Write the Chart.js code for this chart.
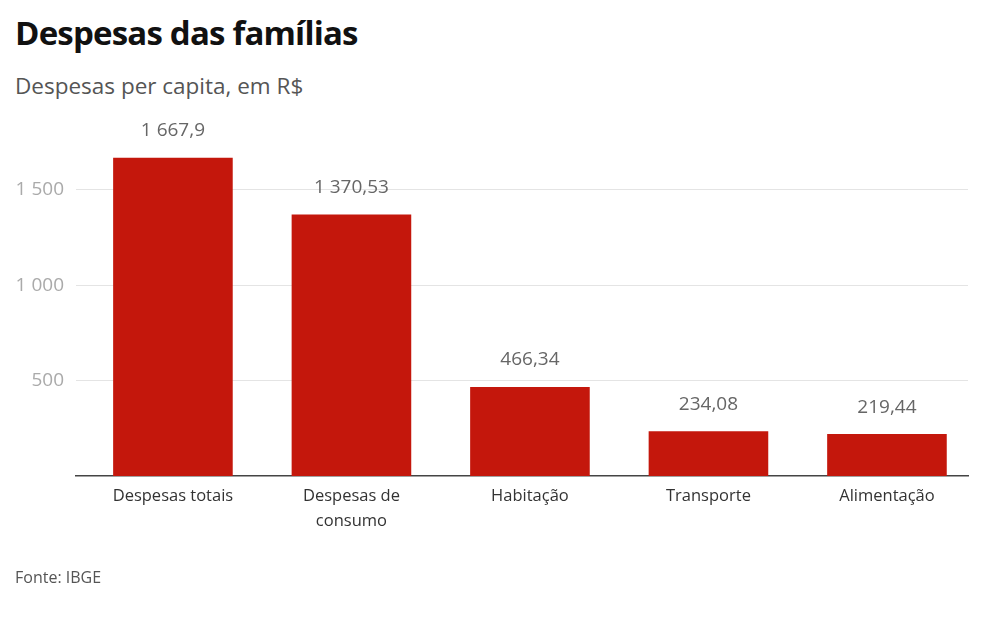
<!DOCTYPE html>
<html>
<head>
<meta charset="utf-8">
<script src="https://cdn.jsdelivr.net/npm/chart.js@4.4.1/dist/chart.umd.min.js"></script>
<style>
  html, body { margin: 0; padding: 0; background: #fff; }
  #wrap { position: relative; width: 984px; height: 617px; overflow: hidden; font-family: "Open Sans", "Noto Sans", sans-serif; }
  #title { position: absolute; left: 15px; top: 13px; font-size: 33px; font-weight: 700; color: #111; letter-spacing: -0.8px; line-height: 1.2; }
  #subtitle { position: absolute; left: 15px; top: 71px; font-size: 22.5px; color: #555; line-height: 1.3; }
  #source { position: absolute; left: 15px; top: 566px; font-size: 16px; color: #555; }
  canvas { position: absolute; left: 0; top: 0; }
</style>
</head>
<body>
<div id="wrap">
  <div id="title">Despesas das famílias</div>
  <div id="subtitle">Despesas per capita, em R$</div>
  <canvas id="chart" width="984" height="617"></canvas>
  <div id="source">Fonte: IBGE</div>
</div>
<script>
var categories = ['Despesas totais', ['Despesas de', 'consumo'], 'Habitação', 'Transporte', 'Alimentação'];
var values = [1667.9, 1370.53, 466.34, 234.08, 219.44];
var valueLabels = ['1 667,9', '1 370,53', '466,34', '234,08', '219,44'];
var yTicks = [500, 1000, 1500];

function fmtThousands(v) {
    return String(v).replace(/\B(?=(\d{3})+(?!\d))/g, ' ');
}

// draw the numbers above each bar
var barLabels = {
    id: 'barLabels',
    afterDatasetsDraw(chart) {
        var ctx = chart.ctx;
        var meta = chart.getDatasetMeta(0);
        ctx.save();
        ctx.font = '19px "Open Sans", "Noto Sans", sans-serif';
        ctx.fillStyle = '#666';
        ctx.textAlign = 'center';
        ctx.textBaseline = 'middle';
        meta.data.forEach((bar, i) => {
            ctx.fillText(valueLabels[i], bar.x, bar.y - 27);
        });
        ctx.restore();
    }
};

var ctx = document.getElementById('chart').getContext('2d');
var myChart = new Chart(ctx, {
    type: 'bar',
    data: {
        datasets: [{
            data: values.map((v, i) => ({ x: i, y: v })),
            backgroundColor: '#c4170c',
            borderWidth: 0,
            barPercentage: 0.67,
            categoryPercentage: 1
        }]
    },
    options: {
        responsive: false,
        animation: false,
        layout: {
            padding: { top: 142, right: 16, bottom: 0, left: 0 }
        },
        plugins: {
            legend: { display: false },
            tooltip: { enabled: false }
        },
        scales: {
            x: {
                type: 'linear',
                min: -0.543,
                max: 4.454,
                offset: false,
                grid: { display: false, drawTicks: false },
                border: { display: true, color: '#444', width: 1.5 },
                afterBuildTicks: function(scale) {
                    scale.ticks = categories.map((c, i) => ({ value: i }));
                },
                ticks: {
                    color: '#333',
                    padding: 8,
                    maxRotation: 0,
                    autoSkip: false,
                    font: { family: '"Open Sans", "Noto Sans", sans-serif', size: 16.5, lineHeight: 1.52 },
                    callback: function(v) { return categories[v]; }
                },
                afterFit: function(scale) { scale.height = 141; }
            },
            y: {
                min: 0,
                max: 1750,
                grid: { color: '#e4e4e4', lineWidth: 1, drawTicks: false },
                border: { display: false },
                afterBuildTicks: function(scale) {
                    scale.ticks = yTicks.map(v => ({ value: v }));
                },
                ticks: {
                    color: '#aaa',
                    padding: 12,
                    font: { family: '"Open Sans", "Noto Sans", sans-serif', size: 19 },
                    callback: function(v) { return fmtThousands(v); }
                },
                afterFit: function(scale) { scale.width = 76; }
            }
        }
    },
    plugins: [barLabels]
});
</script>
</body>
</html>
